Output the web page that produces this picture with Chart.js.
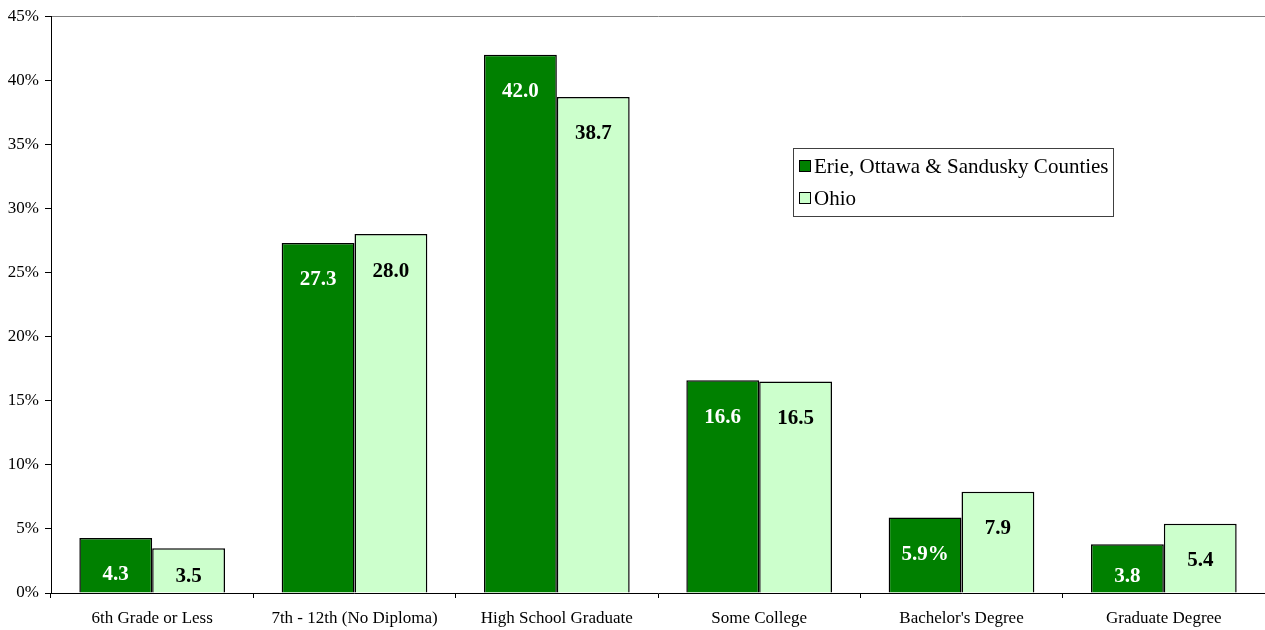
<!DOCTYPE html>
<html>
<head>
<meta charset="utf-8">
<script src="https://cdn.jsdelivr.net/npm/chart.js@4.4.1/dist/chart.umd.min.js"></script>
<style>
  html, body { margin: 0; padding: 0; background: #fff; }
  #wrap { width: 1265px; height: 630px; }
</style>
</head>
<body>
<div id="wrap"><canvas id="chart"></canvas></div>
<script>
var categories = ['6th Grade or Less', '7th - 12th (No Diploma)', 'High School Graduate', 'Some College', "Bachelor's Degree", 'Graduate Degree'];
var countyValues = [4.3, 27.3, 42.0, 16.6, 5.9, 3.8];
var ohioValues = [3.5, 28.0, 38.7, 16.5, 7.9, 5.4];
var countyLabels = ['4.3', '27.3', '42.0', '16.6', '5.9%', '3.8'];
var ohioLabels = ['3.5', '28.0', '38.7', '16.5', '7.9', '5.4'];
var seriesNames = ['Erie, Ottawa & Sandusky Counties', 'Ohio'];

var FONT = '"Liberation Serif", "Times New Roman", serif';

// labels inside the top of each bar, like Excel's "inside end"
var barLabels = {
    id: 'barLabels',
    afterDatasetsDraw(chart) {
        var ctx = chart.ctx;
        var texts = [countyLabels, ohioLabels];
        var colors = ['#ffffff', '#000000'];
        ctx.save();
        ctx.font = 'bold 21px ' + FONT;
        ctx.textAlign = 'center';
        ctx.textBaseline = 'middle';
        chart.data.datasets.forEach(function (ds, i) {
            var meta = chart.getDatasetMeta(i);
            meta.data.forEach(function (bar, j) {
                var y = Math.min(bar.y + 37, bar.base - 16);
                ctx.fillStyle = colors[i];
                ctx.fillText(texts[i][j], bar.x, y);
            });
        });
        ctx.restore();
    }
};

// boxed legend sitting inside the plot
var boxLegend = {
    id: 'boxLegend',
    afterDraw(chart) {
        var ctx = chart.ctx;
        var left = 793, top = 148, w = 320, h = 68;
        ctx.save();
        ctx.fillStyle = '#ffffff';
        ctx.fillRect(left, top, w, h);
        ctx.strokeStyle = '#404040';
        ctx.lineWidth = 1;
        ctx.strokeRect(left + 0.5, top + 0.5, w, h);
        ctx.font = '21px ' + FONT;
        ctx.textBaseline = 'middle';
        ctx.textAlign = 'left';
        chart.data.datasets.forEach(function (ds, i) {
            var cy = top + 18 + i * 32;
            ctx.fillStyle = ds.backgroundColor;
            ctx.fillRect(left + 6, cy - 6, 12, 12);
            ctx.strokeStyle = '#000';
            ctx.strokeRect(left + 6.5, cy - 5.5, 11, 11);
            ctx.fillStyle = '#000';
            ctx.fillText(seriesNames[i], left + 21, cy + 1);
        });
        ctx.restore();
    }
};

const ctx = document.getElementById('chart');
var chart = new Chart(ctx, {
    type: 'bar',
    data: {
        labels: categories,
        datasets: [{
            label: seriesNames[0],
            data: countyValues,
            backgroundColor: '#008000',
            borderColor: '#000000',
            borderWidth: 1.5
        }, {
            label: seriesNames[1],
            data: ohioValues,
            backgroundColor: '#CCFFCC',
            borderColor: '#000000',
            borderWidth: 1.5
        }]
    },
    options: {
        responsive: true,
        maintainAspectRatio: false,
        animation: false,
        layout: { padding: { top: 14, right: 0, left: 0, bottom: 0 } },
        datasets: { bar: { categoryPercentage: 0.72, barPercentage: 1.0 } },
        plugins: {
            legend: { display: false },
            tooltip: { enabled: false }
        },
        scales: {
            x: {
                afterFit(scale) { scale.height = 37; },
                grid: {
                    offset: true,
                    color: 'rgba(0,0,0,0)',
                    tickColor: '#000000',
                    tickLength: 5,
                    drawTicks: true
                },
                border: { color: '#000000', width: 1 },
                ticks: { color: '#000000', font: { family: FONT, size: 17 }, padding: 10, maxRotation: 0 }
            },
            y: {
                min: 0,
                max: 45,
                afterFit(scale) { scale.width = 51; },
                grid: {
                    color: function (c) { return c.tick && c.tick.value === 45 ? '#808080' : 'rgba(0,0,0,0)'; },
                    tickColor: '#000000',
                    tickLength: 6
                },
                border: { color: '#000000', width: 1 },
                ticks: {
                    stepSize: 5,
                    color: '#000000',
                    font: { family: FONT, size: 17 },
                    padding: 6,
                    callback: function (v) { return v + '%'; }
                }
            }
        }
    },
    plugins: [barLabels, boxLegend]
});
</script>
</body>
</html>
